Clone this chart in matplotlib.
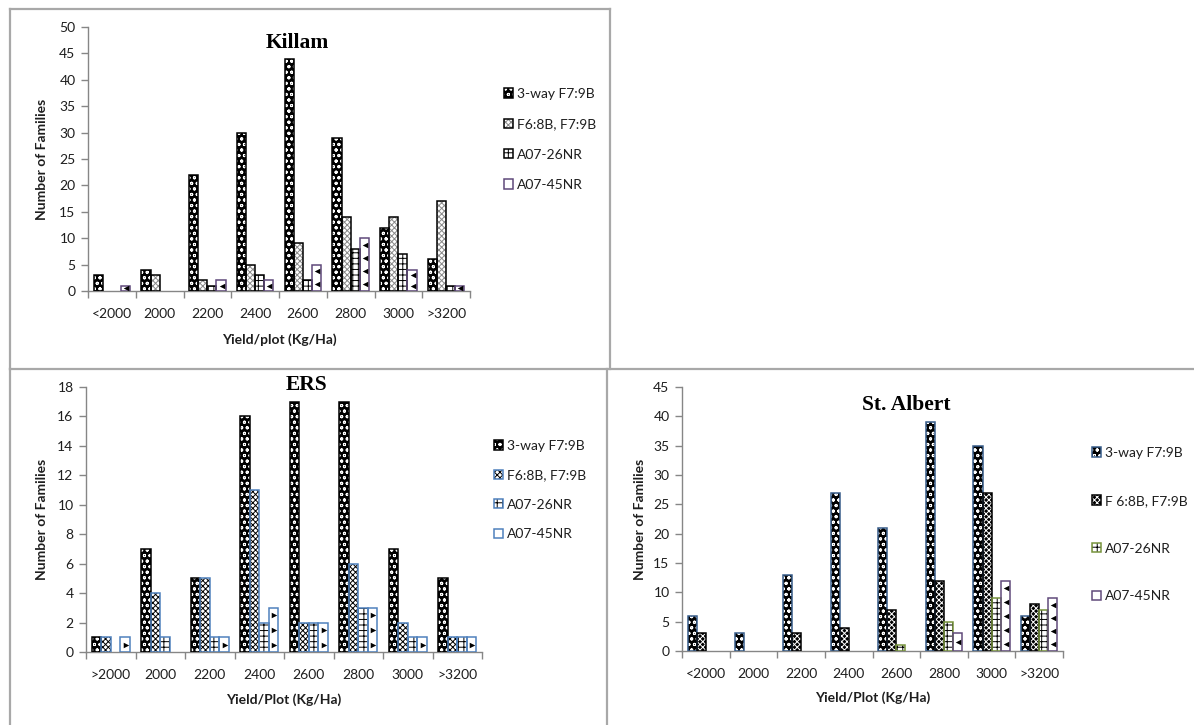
import numpy as np
import matplotlib
matplotlib.use("Agg")
import matplotlib.pyplot as plt
from matplotlib.patches import Patch
from matplotlib.lines import Line2D

W, H = 1194, 725

# ---- data -------------------------------------------------------------
killam_categories = ["<2000", "2000", "2200", "2400", "2600", "2800", "3000", ">3200"]
ers_categories = [">2000", "2000", "2200", "2400", "2600", "2800", "3000", ">3200"]
stalbert_categories = ["<2000", "2000", "2200", "2400", "2600", "2800", "3000", ">3200"]

killam_threeway = [3, 4, 22, 30, 44, 29, 12, 6]
killam_f6 = [0, 3, 2, 5, 9, 14, 14, 17]
killam_a26 = [0, 0, 1, 3, 2, 8, 7, 1]
killam_a45 = [1, 0, 2, 2, 5, 10, 4, 1]

ers_threeway = [1, 7, 5, 16, 17, 17, 7, 5]
ers_f6 = [1, 4, 5, 11, 2, 6, 2, 1]
ers_a26 = [0, 1, 1, 2, 2, 3, 1, 1]
ers_a45 = [1, 0, 1, 3, 2, 3, 1, 1]

stalbert_threeway = [6, 3, 13, 27, 21, 39, 35, 6]
stalbert_f6 = [3, 0, 3, 4, 7, 12, 27, 8]
stalbert_a26 = [0, 0, 0, 0, 1, 5, 9, 7]
stalbert_a45 = [0, 0, 0, 0, 0, 3, 12, 9]

series_labels = ["3-way F7:9B", "F6:8B, F7:9B", "A07-26NR", "A07-45NR"]
stalbert_labels = ["3-way F7:9B", "F 6:8B, F7:9B", "A07-26NR", "A07-45NR"]

# ---- styling ------------------------------------------------------------
plt.rcParams["font.family"] = ["Lato", "DejaVu Sans"]
plt.rcParams["hatch.linewidth"] = 0.7
TEXT = "#1e1e1e"
AXIS = "#868686"
FRAME = "#a8a8a8"
BAR_W = 0.19
TICK_FS = 10
LABEL_FS = 10
LEGEND_FS = 10

def style(face, hatch, hcol, edge, tri=None):
    return dict(face=face, hatch=hatch, hcol=hcol, edge=edge, tri=tri)

killam_styles = [
    style("black", "ooo", "white", "black"),
    style("white", "xxxxxx", "#8a8a8a", "black"),
    style("white", "+++", "black", "black"),
    style("white", None, "black", "#5f497a", tri="<"),
]
ers_styles = [
    style("black", "ooo", "white", "black"),
    style("white", "xxxxxx", "black", "#4f81bd"),
    style("white", "+++", "black", "#4f81bd"),
    style("white", None, "black", "#4f81bd", tri=">"),
]
stalbert_styles = [
    style("black", "ooo", "white", "#385d8a"),
    style("black", "xxxxxx", "white", "black"),
    style("white", "+++", "black", "#77933c"),
    style("white", None, "black", "#604a7b", tri="<"),
]

fig = plt.figure(figsize=(W / 100, H / 100), dpi=100)
fig.patch.set_facecolor("white")


def px_rect(left, top, right, bottom):
    return [left / W, 1 - bottom / H, (right - left) / W, (bottom - top) / H]


def fig_text(x, y, s, **kw):
    fig.text(x / W, 1 - y / H, s, **kw)


def draw_panel(rect, categories, series, styles, labels, ymax, ystep,
               title, title_xy, xlabel, xlabel_y, ylabel_x, legend_xy, legend_gap):
    left, top, right, bottom = rect
    ax = fig.add_axes(px_rect(left, top, right, bottom))
    n = len(categories)
    x = np.arange(n)
    ppu = (bottom - top) / ymax  # pixels per data unit
    offsets = (np.arange(4) - 1.5) * BAR_W
    handles = []
    for vals, st, off in zip(series, styles, offsets):
        vals = np.asarray(vals, dtype=float)
        keep = vals > 0
        xs = x[keep] + off
        vs = vals[keep]
        ax.bar(xs, vs, BAR_W, color=st["face"], edgecolor=st["hcol"],
               hatch=st["hatch"], linewidth=0, zorder=2)
        ax.bar(xs, vs, BAR_W, fill=False, edgecolor=st["edge"],
               linewidth=1.1, zorder=3)
        if st["tri"]:
            for xc, v in zip(xs, vs):
                k = max(1, int(round(v * ppu / 14)))
                ys = (np.arange(k) + 0.5) * v / k
                ax.scatter(np.full(k, xc + 0.015), ys, marker=st["tri"], s=16,
                           color="black", linewidths=0, zorder=4)
        fill = Patch(facecolor=st["face"], edgecolor=st["hcol"],
                     hatch=st["hatch"], linewidth=0)
        outline = Patch(fill=False, edgecolor=st["edge"], linewidth=1.1)
        handles.append((fill, outline))

    ax.set_xlim(-0.5, n - 0.5)
    ax.set_ylim(0, ymax)
    yt = np.arange(0, ymax + 0.1, ystep)
    ax.set_yticks(yt)
    ax.set_yticklabels([f"{int(v)}" for v in yt])
    ax.set_xticks(np.arange(n + 1) - 0.5)
    ax.set_xticklabels([])
    ax.set_xticks(x, minor=True)
    ax.set_xticklabels(categories, minor=True)
    ax.tick_params(axis="x", which="major", length=5, width=1, color=AXIS,
                   direction="out")
    ax.tick_params(axis="x", which="minor", length=0, pad=12,
                   labelsize=TICK_FS, labelcolor=TEXT)
    ax.tick_params(axis="y", length=5, width=1, color=AXIS, pad=4,
                   labelsize=TICK_FS, labelcolor=TEXT)
    for s in ("top", "right"):
        ax.spines[s].set_visible(False)
    for s in ("left", "bottom"):
        ax.spines[s].set_color(AXIS)
        ax.spines[s].set_linewidth(1)
    ax.set_facecolor("none")

    fig_text(title_xy[0], title_xy[1], title, family="Liberation Serif",
             fontweight="bold", fontsize=15.5, ha="center", va="center",
             color="black")
    fig_text((left + right) / 2, xlabel_y, xlabel, fontweight="bold",
             fontsize=LABEL_FS, ha="center", va="center", color=TEXT)
    fig_text(ylabel_x, (top + bottom) / 2, "Number of Families",
             fontweight="bold", fontsize=LABEL_FS, rotation=90, ha="center",
             va="center", color=TEXT)

    fig.legend(handles, labels, loc="upper left",
               bbox_to_anchor=(legend_xy[0] / W, 1 - legend_xy[1] / H),
               bbox_transform=fig.transFigure, frameon=False, borderpad=0,
               borderaxespad=0, handlelength=0.65, handleheight=0.65,
               handletextpad=0.3, labelspacing=legend_gap,
               prop=dict(size=LEGEND_FS), labelcolor=TEXT)
    return ax


draw_panel((88, 27, 470, 291), killam_categories,
           [killam_threeway, killam_f6, killam_a26, killam_a45],
           killam_styles, series_labels, 50, 5,
           "Killam", (297, 43), "Yield/plot (Kg/Ha)", 340, 42,
           (504, 88), 1.32)

draw_panel((86, 387, 482, 652), ers_categories,
           [ers_threeway, ers_f6, ers_a26, ers_a45],
           ers_styles, series_labels, 18, 2,
           "ERS", (306, 385), "Yield/Plot (Kg/Ha)", 700, 42,
           (494, 440), 1.25)

draw_panel((682, 387, 1063, 651), stalbert_categories,
           [stalbert_threeway, stalbert_f6, stalbert_a26, stalbert_a45],
           stalbert_styles, stalbert_labels, 45, 5,
           "St. Albert", (906, 405), "Yield/Plot (Kg/Ha)", 698, 640,
           (1092, 447), 2.58)

# ---- panel frames ------------------------------------------------------
def frame_line(x0, y0, x1, y1):
    fig.add_artist(Line2D([x0 / W, x1 / W], [1 - y0 / H, 1 - y1 / H],
                          transform=fig.transFigure, color=FRAME, lw=1.6))

frame_line(10, 9, 610, 9)
frame_line(10, 9, 10, 369)
frame_line(610, 9, 610, 369)
frame_line(10, 369, 1194, 369)
frame_line(9.5, 369, 9.5, 725)
frame_line(607, 369, 607, 725)

fig.savefig("out.png", dpi=100, facecolor="white")
